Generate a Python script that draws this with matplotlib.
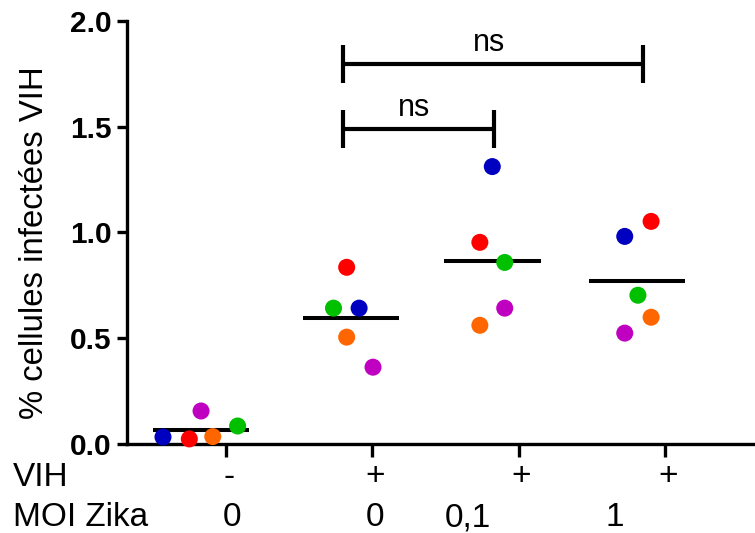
import numpy as np
import matplotlib.pyplot as plt
from matplotlib.transforms import blended_transform_factory

plt.rcParams['font.family'] = ['Liberation Sans', 'DejaVu Sans']

# donnees (% cellules infectees VIH), un donneur par couleur
donneurs = ['bleu', 'rouge', 'magenta', 'orange', 'vert']
couleurs = ['#0000C0', '#FF0000', '#C000C0', '#FF6600', '#00C000']

vih_moins_moi0 = [0.033, 0.024, 0.156, 0.035, 0.085]
vih_plus_moi0 = [0.642, 0.835, 0.363, 0.505, 0.642]
vih_plus_moi01 = [1.311, 0.953, 0.642, 0.561, 0.858]
vih_plus_moi1 = [0.981, 1.052, 0.524, 0.599, 0.703]
groupes = [vih_moins_moi0, vih_plus_moi0, vih_plus_moi01, vih_plus_moi1]

# position des groupes et dispersion horizontale des points (en unites de groupe)
centres = [0.83, 1.855, 2.82, 3.81]
dispersion = [
    [-0.26, -0.08, 0.0, 0.08, 0.25],
    [0.055, -0.03, 0.15, -0.03, -0.12],
    [0.0, -0.085, 0.085, -0.085, 0.085],
    [-0.085, 0.095, -0.085, 0.095, 0.005],
]

ticks_x = [1, 2, 3, 4]
labels_vih = ['-', '+', '+', '+']
labels_moi = ['0', '0', '0,1', '1']
pos_moi = [1.04, 2.02, 2.65, 3.66]

fig = plt.figure(figsize=(7.55, 5.33), dpi=100)
ax = fig.add_axes([0.168, 0.167, 0.832, 0.794])

for i, valeurs in enumerate(groupes):
    xs = np.array(centres[i]) + np.array(dispersion[i])
    ax.scatter(xs, valeurs, c=couleurs, s=150, zorder=5, clip_on=False, linewidths=0)
    moyenne = np.mean(valeurs)
    ax.plot([centres[i] - 0.33, centres[i] + 0.33], [moyenne, moyenne],
            color='black', lw=2.9, zorder=3, solid_capstyle='butt')

# barres de comparaison "ns"
comparaisons = [(1.80, 2.832, 1.49), (1.80, 3.85, 1.797)]
for x1, x2, h in comparaisons:
    ax.plot([x1, x2], [h, h], color='black', lw=3, solid_capstyle='butt', clip_on=False)
    for xx in (x1, x2):
        ax.plot([xx, xx], [h - 0.09, h + 0.09], color='black', lw=3,
                solid_capstyle='butt', clip_on=False)
    ax.text((x1 + x2) / 2 - 0.03, h + 0.025, 'ns', ha='center', va='bottom', fontsize=22)

ax.set_xlim(0.323, 4.615)
ax.set_ylim(0, 2.0)
ax.set_yticks([0.0, 0.5, 1.0, 1.5, 2.0])
ax.set_yticklabels(['0.0', '0.5', '1.0', '1.5', '2.0'], fontweight='bold', fontsize=21.5)
ax.set_xticks(ticks_x)
ax.set_xticklabels([])

for cote in ['top', 'right']:
    ax.spines[cote].set_visible(False)
for cote in ['left', 'bottom']:
    ax.spines[cote].set_linewidth(2.4)
ax.tick_params(axis='y', length=7, width=2.4, pad=4)
ax.tick_params(axis='x', length=9, width=2.4)

ax.set_ylabel('% cellules infectées VIH', fontsize=23.7)
ax.yaxis.set_label_coords(-0.122, 0.476)

trans = blended_transform_factory(ax.transData, fig.transFigure)
for x, lab in zip(ticks_x, labels_vih):
    ax.text(x + 0.02, 1 - 477 / 533, lab, transform=trans, ha='center', va='center', fontsize=24)
for x, lab in zip(pos_moi, labels_moi):
    ax.text(x, 1 - 518 / 533, lab, transform=trans, ha='center', va='center', fontsize=24)
fig.text(13 / 755, 1 - 477 / 533, 'VIH', ha='left', va='center', fontsize=24)
fig.text(13 / 755, 1 - 518 / 533, 'MOI Zika', ha='left', va='center', fontsize=24)

fig.savefig('out.png', dpi=100)
